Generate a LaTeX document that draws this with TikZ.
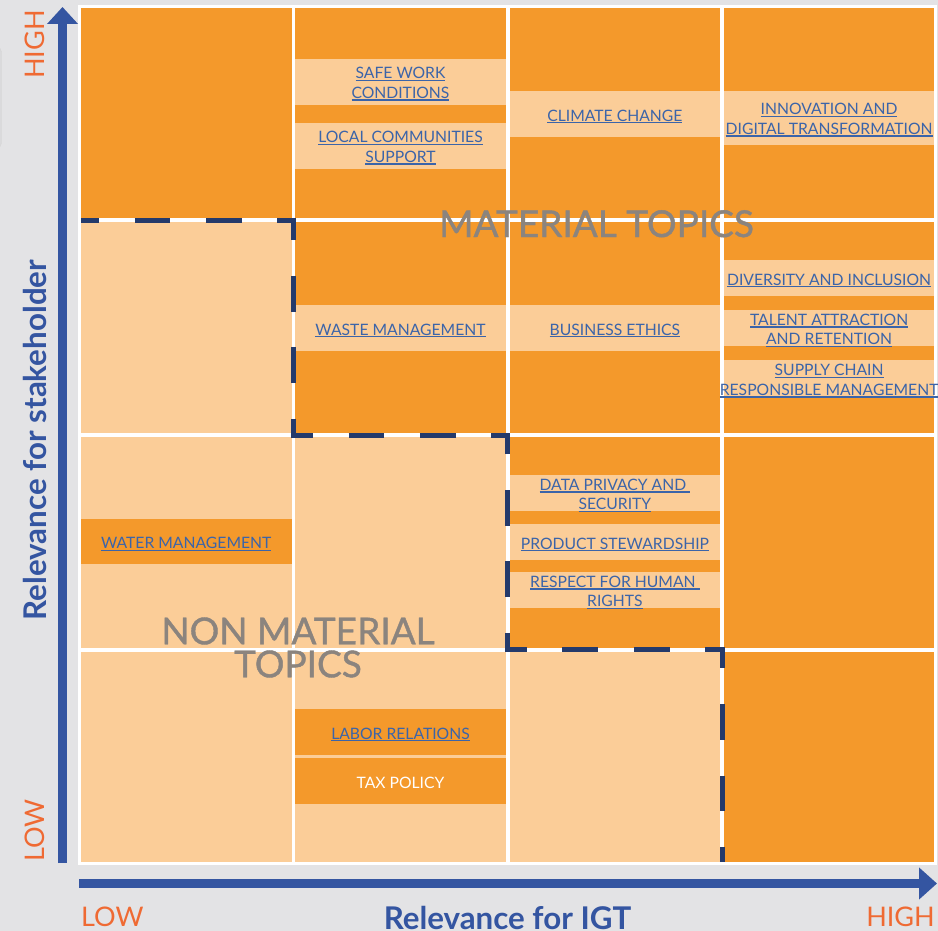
\documentclass[tikz,border=0pt]{standalone}
\usepackage{fontspec}
\setmainfont{Lato}
\newfontfamily\titleface{Lato}[FakeBold=1.1]
\usetikzlibrary{arrows.meta}

% palette
\definecolor{bg}{HTML}{E3E3E5}
\definecolor{deep}{HTML}{F4992B}
\definecolor{pale}{HTML}{FBCD98}
\definecolor{dashnavy}{HTML}{243A6B}
\definecolor{axisblue}{HTML}{3455A1}
\definecolor{scalered}{HTML}{EF6A33}
\definecolor{topicblue}{HTML}{3B64A9}
\definecolor{bigtext}{HTML}{8B847E}

% underlined topic name with a fixed rule weight
\newcommand\ulbox[1]{\setbox0=\hbox{#1}\rlap{\rule[-2.3pt]{\wd0}{1.1pt}}\box0}

\tikzset{
  topic/.style={text=topicblue, font=\fontsize{15.7}{19.5}\selectfont, align=center, inner sep=0pt},
  plain topic/.style={topic, text=white},
  scalelbl/.style={text=scalered, font=\fontsize{27}{27}\selectfont, inner sep=0pt},
  axistitle/.style={text=axisblue, font=\bfseries\fontsize{31.3}{31.3}\selectfont, inner sep=0pt},
  areatitle/.style={text=bigtext, font=\titleface\fontsize{37}{33}\selectfont, inner sep=0pt, align=center},
  axis/.style={axisblue, line width=8.5pt},
  boundary/.style={dashnavy, line width=5pt, dash pattern=on 35.7pt off 35.7pt, dash phase=17.8pt}
}

\begin{document}
\begin{tikzpicture}[x=1pt, y=-1pt]
  \useasboundingbox (0,0) rectangle (938,931);
  \fill[bg] (0,0) rectangle (938,931);

  % edge of a panel at the left border
  \draw[fill=bg!96!black, draw=black!16, rounded corners=5pt] (-20,47) rectangle (1.5,148);

  % white frame behind the grid
  \fill[white] (78,5.5) rectangle (937,865);

  % grid cells: columns start at 81, 295.3, 509.6, 723.9; rows at 8, 222.5, 437, 651.5
  % row 1
  \fill[deep] (81,8)    rectangle ++(210.5,210.5);
  \fill[deep] (295.3,8) rectangle ++(210.5,210.5);
  \fill[deep] (509.6,8) rectangle ++(210.5,210.5);
  \fill[deep] (723.9,8) rectangle ++(210.5,210.5);
  % row 2
  \fill[pale] (81,222.5)    rectangle ++(210.5,210.5);
  \fill[deep] (295.3,222.5) rectangle ++(210.5,210.5);
  \fill[deep] (509.6,222.5) rectangle ++(210.5,210.5);
  \fill[deep] (723.9,222.5) rectangle ++(210.5,210.5);
  % row 3
  \fill[pale] (81,437)    rectangle ++(210.5,210.5);
  \fill[pale] (295.3,437) rectangle ++(210.5,210.5);
  \fill[deep] (509.6,437) rectangle ++(210.5,210.5);
  \fill[deep] (723.9,437) rectangle ++(210.5,210.5);
  % row 4
  \fill[pale] (81,651.5)    rectangle ++(210.5,210.5);
  \fill[pale] (295.3,651.5) rectangle ++(210.5,210.5);
  \fill[pale] (509.6,651.5) rectangle ++(210.5,210.5);
  \fill[deep] (723.9,651.5) rectangle ++(210.5,210.5);

  % topic bands
  \fill[pale] (295.3,59)  rectangle (505.8,105);
  \fill[pale] (295.3,123) rectangle (505.8,169);
  \fill[pale] (509.6,91)  rectangle (720.1,137);
  \fill[pale] (723.9,91)  rectangle (934.4,145);
  \fill[pale] (295.3,305) rectangle (505.8,351);
  \fill[pale] (509.6,305) rectangle (720.1,351);
  \fill[pale] (723.9,260) rectangle (934.4,296);
  \fill[pale] (723.9,310) rectangle (934.4,346);
  \fill[pale] (723.9,360) rectangle (934.4,398);
  \fill[deep] (81,519)    rectangle (291.5,564);
  \fill[pale] (509.6,475) rectangle (720.1,511);
  \fill[pale] (509.6,524) rectangle (720.1,560);
  \fill[pale] (509.6,572) rectangle (720.1,608);
  \fill[deep] (295.3,709) rectangle (505.8,755);
  \fill[deep] (295.3,758) rectangle (505.8,804);

  % topic names
  \node[topic] (safe)      at (400.5,84)    {\ulbox{SAFE WORK}\\\ulbox{CONDITIONS}};
  \node[topic] (local)     at (400.5,148)   {\ulbox{LOCAL COMMUNITIES}\\\ulbox{SUPPORT}};
  \node[topic] (climate)   at (614.9,116.5) {\ulbox{CLIMATE CHANGE}};
  \node[topic] (innov)     at (829.1,120)   {\ulbox{INNOVATION AND}\\\ulbox{DIGITAL TRANSFORMATION}};
  \node[topic] (waste)     at (400.5,330.5) {\ulbox{WASTE MANAGEMENT}};
  \node[topic] (ethics)    at (614.9,330.5) {\ulbox{BUSINESS ETHICS}};
  \node[topic] (diversity) at (829.1,280.5) {\ulbox{DIVERSITY AND INCLUSION}};
  \node[topic] (talent)    at (829.1,330.5) {\ulbox{TALENT ATTRACTION}\\\ulbox{AND RETENTION}};
  \node[topic] (supply)    at (829.1,381)   {\ulbox{SUPPLY CHAIN}\\\ulbox{RESPONSIBLE MANAGEMENT}};
  \node[topic] (water)     at (186.2,544)   {\ulbox{WATER MANAGEMENT}};
  \node[topic] (privacy)   at (614.9,495.5) {\ulbox{DATA PRIVACY AND\ }\\\ulbox{SECURITY}};
  \node[topic] (product)   at (614.9,544.5) {\ulbox{PRODUCT STEWARDSHIP}};
  \node[topic] (rights)    at (614.9,592.5) {\ulbox{RESPECT FOR HUMAN\ }\\\ulbox{RIGHTS}};
  \node[topic] (labor)     at (400.5,734.5) {\ulbox{LABOR RELATIONS}};
  \node[plain topic] (tax) at (400.5,782.5) {TAX POLICY};

  % boundary between material and non material topics
  \coordinate (b0) at (81,220.5);
  \coordinate (b1) at (293.4,220.5);
  \coordinate (b2) at (293.4,435);
  \coordinate (b3) at (507.7,435);
  \coordinate (b4) at (507.7,649.5);
  \coordinate (b5) at (722,649.5);
  \coordinate (b6) at (722,862);
  \draw[boundary] (b0) -- (b1) -- (b2) -- (b3) -- (b4) -- (b5) -- (b6);

  % area titles
  \node[areatitle, anchor=base] (mat) at (596.5,237) {MATERIAL TOPICS};
  \node[areatitle] (nonmat) at (298,647.5) {NON MATERIAL\\TOPICS};

  % axes
  \coordinate (yfoot) at (62.5,863);
  \coordinate (ytip)  at (62.5,7);
  \coordinate (xfoot) at (79,883.5);
  \coordinate (xtip)  at (937,883.5);
  \draw[axis, -{Triangle[length=17pt,width=30pt]}] (yfoot) -- (ytip);
  \draw[axis, -{Triangle[length=18pt,width=31pt]}] (xfoot) -- (xtip);

  % axis labels
  \node[scalelbl, rotate=90, anchor=base east] (yhigh) at (44,10)  {HIGH};
  \node[scalelbl, rotate=90, anchor=base west] (ylow)  at (44,862) {LOW};
  \node[scalelbl, anchor=base west] (xlow)  at (81,926.5)  {LOW};
  \node[scalelbl, anchor=base east] (xhigh) at (935,926.5) {HIGH};
  \node[axistitle, rotate=90] (ytitle) at (34.5,440) {Relevance for stakeholder};
  \node[axistitle, anchor=base] (xtitle) at (507.5,929.5) {Relevance for IGT};
\end{tikzpicture}
\end{document}
